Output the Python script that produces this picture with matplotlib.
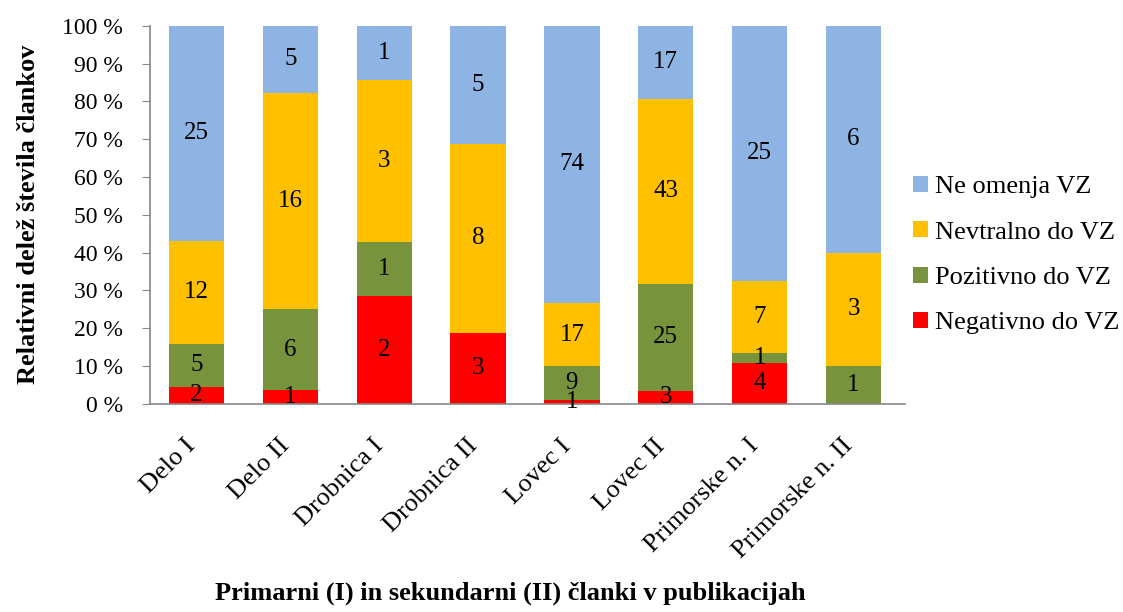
import matplotlib.pyplot as plt
import numpy as np

plt.rcParams['font.family'] = ['Liberation Serif', 'DejaVu Serif']

# podatki (število člankov)
publikacije = ['Delo I', 'Delo II', 'Drobnica I', 'Drobnica II',
               'Lovec I', 'Lovec II', 'Primorske n. I', 'Primorske n. II']
negativno = [2, 1, 2, 3, 1, 3, 4, 0]
pozitivno = [5, 6, 1, 0, 9, 25, 1, 1]
nevtralno = [12, 16, 3, 8, 17, 43, 7, 3]
ne_omenja = [25, 5, 1, 5, 74, 17, 25, 6]

serije = [
    ('Negativno do VZ', negativno, '#FF0000'),
    ('Pozitivno do VZ', pozitivno, '#77933C'),
    ('Nevtralno do VZ', nevtralno, '#FFC000'),
    ('Ne omenja VZ', ne_omenja, '#8EB4E3'),
]

skupaj = np.array(negativno) + np.array(pozitivno) + np.array(nevtralno) + np.array(ne_omenja)
x = np.arange(len(publikacije))

fig = plt.figure(figsize=(11.23, 6.12), dpi=100)
ax = fig.add_axes([0.134, 0.340, 0.672, 0.618])

dno = np.zeros(len(publikacije))
for ime, vrednosti, barva in serije:
    v = np.array(vrednosti)
    delez = v / skupaj * 100
    ax.bar(x, delez, 0.59, bottom=dno, color=barva, label=ime)
    for i in range(len(x)):
        if v[i] > 0:
            ax.text(x[i], dno[i] + delez[i] / 2, str(v[i]), ha='center', va='center',
                    fontsize=18)
    dno = dno + delez

ax.set_xlim(-0.49, 7.55)
ax.set_ylim(0, 100)
ax.set_yticks(np.arange(0, 101, 10))
ax.set_yticklabels([f'{t} %' for t in range(0, 101, 10)], fontsize=17)
ax.set_xticks(x)
ax.set_xticklabels(publikacije, rotation=45, ha='right', va='baseline',
                   rotation_mode='anchor', fontsize=19)
ax.tick_params(axis='x', length=0, pad=31)
ax.tick_params(axis='y', length=6, color='#888888', pad=14)

for s in ['top', 'right']:
    ax.spines[s].set_visible(False)
for s in ['left', 'bottom']:
    ax.spines[s].set_color('#888888')
    ax.spines[s].set_linewidth(1.2)

fig.text(0.025, 0.65, 'Relativni delež števila člankov', rotation=90,
         ha='center', va='center', fontsize=19, fontweight='bold')
fig.text(0.454, 0.03, 'Primarni (I) in sekundarni (II) članki v publikacijah',
         ha='center', va='center', fontsize=19, fontweight='bold')

h, l = ax.get_legend_handles_labels()
ax.legend(h[::-1], l[::-1], loc='center left', bbox_to_anchor=(0.813, 0.583),
          bbox_transform=fig.transFigure, frameon=False, fontsize=19,
          borderaxespad=0, borderpad=0, handlelength=0.55, handleheight=0.55,
          handletextpad=0.3, labelspacing=0.87)

plt.savefig('out.png', dpi=100)
plt.close()
